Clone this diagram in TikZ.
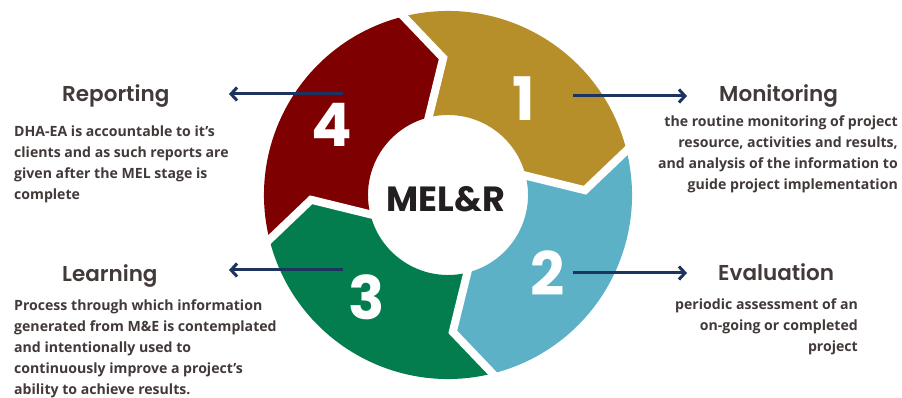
\documentclass[tikz,border=0pt]{standalone}
\usepackage{fontspec}
\setmainfont{Open Sans}
\newfontfamily\headfont{Poppins SemiBold}
\newfontfamily\numfont{Poppins}
\usetikzlibrary{calc,arrows.meta}

\definecolor{segGold}{RGB}{183,143,42}
\definecolor{segBlue}{RGB}{92,177,198}
\definecolor{segGreen}{RGB}{4,125,78}
\definecolor{segRed}{RGB}{127,0,0}
\definecolor{inkGray}{RGB}{66,58,57}
\definecolor{hubInk}{RGB}{35,31,32}
\definecolor{pointerBlue}{RGB}{30,52,96}

\def\outerR{184pt}
\def\innerR{80pt}
\def\midR{137pt}
% one ring segment, running clockwise from angle #2 to angle #3
\def\cycleseg[#1](#2:#3){\fill[#1] (#2:\outerR) arc[start angle=#2, end angle=#3, radius=\outerR] -- ({#3-12}:\midR) -- (#3:\innerR) arc[start angle=#3, end angle=#2, radius=\innerR] -- ({#2-12}:\midR) -- cycle;}
% white chevron gap between two segments
\def\cyclegap(#1){\draw[white, line width=8pt, line join=miter] ($({#1-12}:\midR)!1.2!(#1:\outerR)$) -- ({#1-12}:\midR) -- ($({#1-12}:\midR)!1.3!(#1:\innerR)$);}

\begin{document}
\begin{tikzpicture}[x=1pt, y=1pt,
	headtext/.style={inner sep=0, text=inkGray, font=\headfont\fontsize{21.5}{24}\selectfont},
	bodytext/.style={inner sep=0, text=inkGray, font=\bfseries\fontsize{14.1}{21}\selectfont},
	stepnum/.style={inner sep=0, text=white, font=\numfont\bfseries\fontsize{60}{60}\selectfont},
	pointer/.style={pointerBlue, line width=3pt, -{Straight Barb[length=6pt, width=13pt]}}]
		%%%%% START %%%%%
		
		\useasboundingbox[fill=white] (0, 0) rectangle (902, 398);
		
		% ring
		\begin{scope}[shift={(448, 203)}]
			\cycleseg[segGold](104:14)
			\cycleseg[segBlue](14:-76)
			\cycleseg[segGreen](-76:-166)
			\cycleseg[segRed](194:104)
			\cyclegap(104)
			\cyclegap(14)
			\cyclegap(-76)
			\cyclegap(194)
		\end{scope}
		
		\node[stepnum] (num1) at (524, 299) {1};
		\node[stepnum] (num2) at (548, 125) {2};
		\node[stepnum] (num3) at (367, 101) {3};
		\node[stepnum] (num4) at (332, 273) {4};
		
		\node[inner sep=0, text=hubInk, font=\numfont\bfseries\fontsize{35}{35}\selectfont] (hub) at (446, 199) {MEL\&R};
		
		% pointers out to the captions
		\coordinate (mon-from) at (573, 302);
		\coordinate (mon-to) at (687, 302);
		\coordinate (eva-from) at (573, 125);
		\coordinate (eva-to) at (687, 125);
		\coordinate (lea-from) at (343, 128);
		\coordinate (lea-to) at (229, 128);
		\coordinate (rep-from) at (343, 304);
		\coordinate (rep-to) at (229, 304);
		\draw[pointer] (mon-from) -- (mon-to);
		\draw[pointer] (eva-from) -- (eva-to);
		\draw[pointer] (lea-from) -- (lea-to);
		\draw[pointer] (rep-from) -- (rep-to);
		
		% captions
		\node[headtext, anchor=base west] (monitoring) at (719, 296) {Monitoring};
		\node[bodytext, anchor=north east, align=right] (monitoring-text) at (898, 282) {the routine monitoring of project\\resource, activities and results,\\and analysis of the information to\\guide project implementation};
		
		\node[headtext, anchor=base west] (evaluation) at (718, 117) {Evaluation};
		\node[bodytext, anchor=north east, align=right] (evaluation-text) at (858, 99) {periodic assessment of an\\on-going or completed\\project};
		
		\node[headtext, anchor=base west] (learning) at (62, 116) {Learning};
		\node[bodytext, anchor=north west, align=left] (learning-text) at (14, 98) {Process through which information\\generated from M\&E is contemplated\\and intentionally used to\\continuously improve a project’s\\ability to achieve results.};
		
		\node[headtext, anchor=base west] (reporting) at (62, 296) {Reporting};
		\node[bodytext, anchor=north west, align=left] (reporting-text) at (14, 272) {DHA-EA is accountable to it’s\\clients and as such reports are\\given after the MEL stage is\\complete};
		
		%%%%% END %%%%%
\end{tikzpicture}
\end{document}
